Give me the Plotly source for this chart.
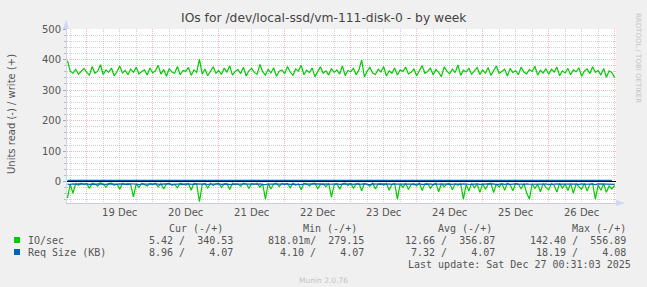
import pandas as pd
import plotly.graph_objects as go

# ---------------- data ----------------
times = pd.date_range("2025-12-18 17:00", "2025-12-27 00:00", freq="1h")

io_write = [
    396, 362, 355, 368, 352, 360, 371,
    358, 349, 377, 355, 362, 383, 351, 366, 358, 372, 347, 360, 379, 356, 364, 350, 369, 358, 375, 353, 361, 366, 349, 372,
    356, 363, 381, 352, 367, 345, 370, 359, 355, 377, 350, 364, 361, 374, 348, 366, 358, 401, 352, 369, 347, 362, 376, 355,
    364, 351, 372, 358, 380, 349, 361, 367, 354, 375, 346, 363, 371, 357, 352, 384, 360, 349, 368, 356, 373, 345, 362, 366,
    353, 377, 359, 348, 369, 362, 381, 350, 365, 357, 372, 344, 361, 376, 355, 363, 349, 370, 358, 366, 352, 379, 347, 364,
    360, 371, 350, 366, 398, 343, 362, 374, 356, 351, 368, 359, 377, 346, 363, 355, 372, 349, 366, 361, 375, 353, 358, 369,
    347, 364, 380, 355, 361, 372, 350, 367, 358, 344, 376, 362, 353, 369, 357, 382, 348, 365, 359, 371, 352, 363, 374, 351,
    366, 355, 373, 348, 362, 379, 354, 360, 368, 346, 371, 357, 364, 350, 375, 359, 353, 367, 361, 378, 349, 365, 356, 370,
    352, 368, 359, 375, 347, 363, 356, 371, 350, 366, 360, 373, 345, 362, 369, 354, 376, 358, 364, 349, 371, 342, 363, 357,
    341,
]

io_read = [
    54, 8, 38, 6, 12, 5, 9,
    6, 22, 5, 7, 15, 4, 9, 18, 6, 5, 12, 7, 25, 5, 8, 6, 10, 50, 7, 19, 5, 9, 14, 6,
    8, 5, 17, 6, 24, 7, 5, 12, 9, 20, 5, 7, 11, 6, 28, 5, 8, 66, 9, 6, 21, 5, 13, 7,
    5, 19, 7, 6, 26, 5, 10, 8, 15, 5, 7, 22, 6, 9, 5, 18, 7, 57, 6, 24, 8, 5, 16, 6,
    9, 6, 20, 5, 12, 7, 27, 5, 8, 14, 6, 5, 23, 9, 6, 17, 5, 51, 11, 7, 25, 6, 5, 13,
    6, 21, 8, 5, 30, 6, 9, 15, 5, 24, 7, 6, 12, 5, 28, 8, 6, 57, 7, 19, 5, 26, 9, 6,
    14, 5, 29, 7, 6, 22, 9, 5, 33, 6, 17, 8, 5, 27, 7, 12, 6, 57, 9, 31, 5, 20, 8, 35,
    6, 25, 9, 5, 36, 7, 18, 6, 28, 5, 11, 30, 6, 8, 24, 5, 37, 57, 7, 22, 9, 33, 6, 19,
    27, 6, 12, 34, 5, 21, 8, 29, 6, 38, 7, 17, 25, 5, 31, 9, 6, 57, 11, 28, 7, 35, 14, 24,
    12,
]

req_read = [
    8.1, 9.4, 7.2, 8.8, 7.6, 9.0, 8.3,
    7.4, 8.9, 7.9, 9.6, 7.1, 8.4, 8.0, 9.2, 7.5, 8.7, 7.8, 9.1, 7.3, 8.6, 8.2, 9.7, 7.0, 8.5, 7.7, 9.3, 8.1, 7.6, 8.8, 7.9,
    9.0, 7.4, 8.3, 9.5, 7.2, 8.7, 7.9, 9.1, 7.6, 8.4, 8.0, 9.8, 7.3, 8.6, 7.8, 9.2, 7.5, 8.9, 8.1, 7.4, 9.4, 7.7, 8.5, 8.2,
    7.6, 9.1, 8.0, 7.3, 8.8, 9.6, 7.5, 8.2, 7.9, 9.3, 7.1, 8.6, 8.4, 7.7, 9.0, 7.4, 8.7, 9.5, 7.8, 8.1, 7.2, 8.9, 7.6, 9.2,
    8.3, 7.5, 9.0, 7.9, 8.6, 7.2, 9.4, 8.0, 7.7, 8.8, 7.4, 9.1, 8.2, 7.6, 9.7, 7.3, 8.5, 7.9, 9.2, 7.5, 8.7, 8.1, 7.8, 9.0,
    7.4, 8.9, 7.7, 9.3, 8.1, 7.5, 8.6, 9.8, 7.2, 8.3, 7.9, 9.0, 7.6, 8.8, 7.3, 9.4, 8.0, 7.8, 8.5, 9.1, 7.4, 8.2, 7.7, 9.6,
    8.0, 7.3, 9.2, 7.8, 8.7, 7.5, 9.5, 8.1, 7.6, 8.9, 7.2, 8.4, 9.3, 7.7, 8.2, 7.9, 9.0, 7.4, 8.6, 7.8, 9.4, 8.3, 7.1, 8.8,
    7.9, 9.1, 7.5, 8.4, 7.7, 9.6, 8.0, 7.3, 8.9, 7.6, 9.2, 8.2, 7.4, 8.7, 7.8, 9.4, 7.5, 8.5, 8.1, 7.2, 9.0, 7.9, 8.6, 7.7,
    9.3, 7.6, 8.3, 7.4, 9.0, 8.1, 7.8, 9.5, 7.3, 8.6, 7.9, 8.8, 7.5, 9.2, 8.0, 7.7, 8.4, 9.7, 7.6, 8.2, 7.4, 9.1, 8.5, 8.9,
    8.96,
]

req_times = pd.date_range("2025-12-18 17:00", "2025-12-27 00:00", freq="6h")
req_write = [4.07, 4.07, 4.07, 4.08, 4.07, 4.07, 4.07, 4.07, 4.07, 4.08, 4.07, 4.07,
             4.07, 4.07, 4.07, 4.07, 4.08, 4.07, 4.07, 4.07, 4.07, 4.07, 4.07, 4.08,
             4.07, 4.07, 4.07, 4.07, 4.07, 4.07, 4.07, 4.07, 4.07, 4.07]

series_names = ["IO/sec", "Req Size (KB)"]
series_colors = ["#00cc00", "#0066b3"]
stat_headers = ["Cur (-/+)", "Min (-/+)", "Avg (-/+)", "Max (-/+)"]
stats_io = ["5.42 /  340.53", "818.01m/  279.15", "12.66 /  356.87", "142.40 /  556.89"]
stats_req = ["8.96 /    4.07", "4.10 /    4.07", "7.32 /    4.07", "18.19 /    4.08"]
title_text = "IOs for /dev/local-ssd/vm-111-disk-0 - by week"
y_title = "Units read (-) / write (+)"
last_update = "Last update: Sat Dec 27 00:31:03 2025"
munin_ver = "Munin 2.0.76"
rrd_text = "RRDTOOL / TOBI OETIKER"

# ---------------- layout geometry ----------------
W, H = 647, 287
L, R, T, B = 67, 31, 29, 84
PW, PH = W - L - R, H - T - B


def px(x):
    return (x - L) / PW


def py(y):
    return (H - B - y) / PH


fig = go.Figure()
fig.add_trace(go.Scatter(x=times, y=[-v for v in io_read], mode="lines",
                         line=dict(color=series_colors[0], width=1.2), showlegend=False))
fig.add_trace(go.Scatter(x=times, y=io_write, mode="lines",
                         line=dict(color=series_colors[0], width=1.2), showlegend=False))
fig.add_trace(go.Scatter(x=times, y=[-v for v in req_read], mode="lines",
                         line=dict(color=series_colors[1], width=1.2), showlegend=False))
fig.add_trace(go.Scatter(x=req_times, y=req_write, mode="lines",
                         line=dict(color=series_colors[1], width=1.2), showlegend=False))

mono = "DejaVu Sans Mono"
sans = "DejaVu Sans"
txt = "#555555"

ann = []
ann.append(dict(text=title_text, x=px(324), y=py(18), xanchor="center", yanchor="middle",
                font=dict(family=sans, size=12.3, color="#444444")))
ann.append(dict(text=y_title, x=px(11), y=py(114), xanchor="center", yanchor="middle",
                textangle=-90, font=dict(family=sans, size=10, color=txt)))
ann.append(dict(text=rrd_text, x=px(638), y=py(58), xanchor="center", yanchor="middle",
                textangle=90, font=dict(family=sans, size=7, color="#c4c4c4")))
ann.append(dict(text=munin_ver, x=px(323), y=py(280), xanchor="center", yanchor="middle",
                font=dict(family=sans, size=7.5, color="#c4c4c4")))

hdr_right = [225, 359, 494, 628]
val_right = [235, 366, 497, 628]
for h, xr in zip(stat_headers, hdr_right):
    ann.append(dict(text=h, x=px(xr), y=py(228), xanchor="right", yanchor="middle",
                    font=dict(family=mono, size=10, color=txt)))
for row_y, name, vals in [(240, series_names[0], stats_io), (252, series_names[1], stats_req)]:
    ann.append(dict(text=name, x=px(26), y=py(row_y), xanchor="left", yanchor="middle",
                    font=dict(family=mono, size=10, color=txt)))
    for v, xr in zip(vals, val_right):
        ann.append(dict(text=v.replace(" ", "&nbsp;"), x=px(xr), y=py(row_y), xanchor="right",
                        yanchor="middle", font=dict(family=mono, size=10, color=txt)))
ann.append(dict(text=last_update, x=px(633), y=py(264), xanchor="right", yanchor="middle",
                font=dict(family=mono, size=10, color=txt)))
for a in ann:
    a.update(xref="paper", yref="paper", showarrow=False)

shapes = []
for row_y, col in [(240, series_colors[0]), (252, series_colors[1])]:
    shapes.append(dict(type="rect", xref="paper", yref="paper",
                       x0=px(14), x1=px(20), y0=py(row_y + 3), y1=py(row_y - 3),
                       fillcolor=col, line=dict(width=0)))
axis_col = "#cfd6f8"
# arrows
shapes.append(dict(type="path", xref="paper", yref="paper",
                   path=f"M {px(63)} {py(29)} L {px(69)} {py(29)} L {px(66)} {py(20)} Z",
                   fillcolor=axis_col, line=dict(width=0)))
shapes.append(dict(type="path", xref="paper", yref="paper",
                   path=f"M {px(616)} {py(200)} L {px(616)} {py(206)} L {px(625)} {py(203)} Z",
                   fillcolor=axis_col, line=dict(width=0)))

major_grid = "rgba(255,60,60,0.38)"
minor_grid = "rgba(128,128,128,0.35)"
fig.update_layout(
    width=W, height=H, autosize=False,
    margin=dict(l=L, r=R, t=T, b=B, pad=0),
    paper_bgcolor="#f0f0f0", plot_bgcolor="#ffffff",
    annotations=ann, shapes=shapes, showlegend=False,
)
fig.update_xaxes(
    type="date", range=["2025-12-18 16:50", "2025-12-27 00:30"],
    tick0="2025-12-19", dtick=86400000, ticklabelmode="period", tickformat="%d %b",
    showgrid=True, gridcolor=major_grid, griddash="1px,1px", gridwidth=1,
    minor=dict(dtick=6 * 3600000, tick0="2025-12-19", showgrid=True,
               gridcolor=minor_grid, griddash="1px,1px", gridwidth=1),
    showline=True, linecolor="#c8ccdc", linewidth=1, ticks="",
    tickfont=dict(family=sans, size=10, color=txt), zeroline=False,
)
fig.update_yaxes(
    range=[-70, 500], tick0=0, dtick=100,
    showgrid=True, gridcolor=major_grid, griddash="1px,1px", gridwidth=1,
    minor=dict(dtick=20, tick0=0, showgrid=True, gridcolor=minor_grid,
               griddash="1px,1px", gridwidth=1, ticks="outside", ticklen=2, tickcolor="#bbbbbb"),
    ticks="outside", ticklen=3, tickcolor="#aaaaaa",
    showline=True, linecolor=axis_col, linewidth=1,
    zeroline=True, zerolinecolor="#000000", zerolinewidth=1,
    tickfont=dict(family=sans, size=10, color=txt),
)

fig.write_html("out.html")
